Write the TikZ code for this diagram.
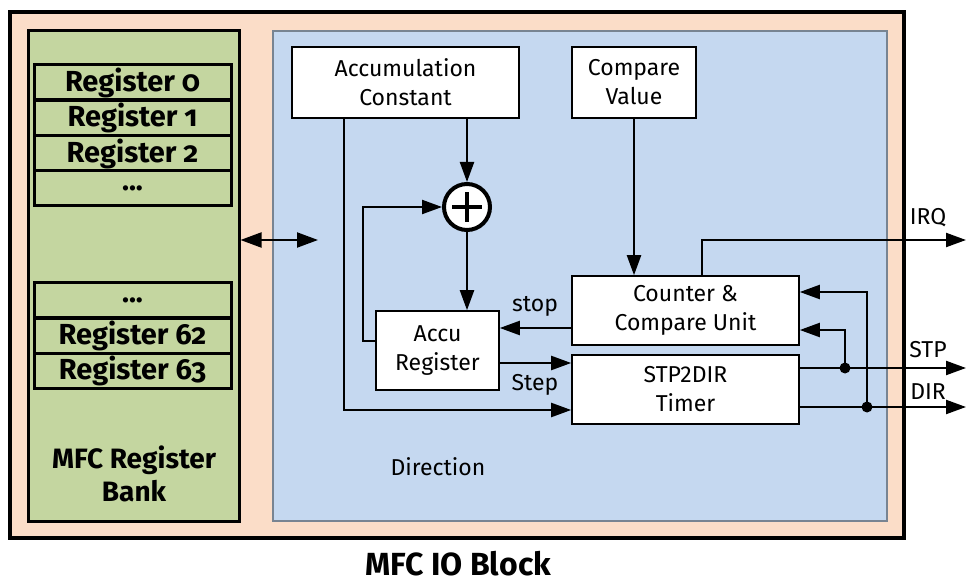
\documentclass[tikz,border=0pt]{standalone}
\usepackage{fontspec}
\setmainfont{Fira Sans}
\newfontfamily\regfont{Fira Sans}[Numbers=OldStyle]
\usetikzlibrary{arrows.meta,positioning}
\definecolor{ioPeach}{RGB}{251,221,200}
\definecolor{bankGreen}{RGB}{196,214,160}
\definecolor{unitBlue}{RGB}{197,216,240}
\definecolor{unitEdge}{RGB}{120,132,146}
\tikzset{
  io frame/.style={draw=black,fill=ioPeach,line width=3.5pt},
  io bank/.style={draw=black,fill=bankGreen,line width=3pt},
  io reg/.style={draw=black,fill=bankGreen,line width=3pt,minimum width=197pt,minimum height=35pt,inner sep=0pt,font=\regfont\bfseries\fontsize{29}{30}\selectfont},
  io unit/.style={draw=unitEdge,fill=unitBlue,line width=1.2pt},
  io box/.style={draw=black,fill=white,line width=1.6pt,align=center,inner sep=0pt,font=\fontsize{23}{29}\selectfont},
  io sum/.style={circle,draw=black,fill=white,line width=4pt,minimum size=46pt,inner sep=0pt},
  io cross/.style={line width=4.5pt},
  io flow/.style={line width=2.2pt,-{Triangle[length=20pt,width=14pt]}},
  io bus/.style={line width=2pt,{Triangle[length=21pt,width=15pt]}-{Triangle[length=21pt,width=15pt]}},
  io label/.style={font=\fontsize{23}{29}\selectfont},
  io title/.style={font=\bfseries\fontsize{28}{33}\selectfont,align=center}
}
\begin{document}
\begin{tikzpicture}[x=1pt,y=-1pt]
\useasboundingbox (0,0) rectangle (968,585);
% containers
\node[io frame,minimum width=894pt,minimum height=526pt] (frame) at (457,275) {};
\node[io bank,minimum width=211pt,minimum height=490pt] (bank) at (133.5,276) {};
\node[io unit,minimum width=614pt,minimum height=490pt] (unit) at (580,276) {};
\node[io title] (banktitle) at (134,474) {MFC Register\\Bank};
\node[io title,font=\bfseries\fontsize{32}{36}\selectfont,anchor=base,inner sep=0pt] (iotitle) at (458,575) {MFC IO Block};
% register rows
\node[io reg] (reg0) at (132.5,82.5) {Register 0};
\node[io reg] (reg1) at (132.5,118) {Register 1};
\node[io reg] (reg2) at (132.5,153.5) {Register 2};
\node[io reg] (regdots) at (132.5,188.5) {...};
\node[io reg] (regdotsb) at (132.5,300) {...};
\node[io reg] (reg62) at (132.5,335.5) {Register 62};
\node[io reg] (reg63) at (132.5,370.5) {Register 63};
% function blocks
\node[io box,minimum width=227pt,minimum height=71pt] (accconst) at (405.5,82.5) {Accumulation\\Constant};
\node[io box,minimum width=124pt,minimum height=71pt] (cmpval) at (634,82.5) {Compare\\Value};
\node[io sum] (plus) at (467,207) {};
\draw[io cross] ([xshift=-15pt]plus.center) -- ([xshift=15pt]plus.center);
\draw[io cross] ([yshift=-15pt]plus.center) -- ([yshift=15pt]plus.center);
\node[io box,minimum width=123pt,minimum height=79pt] (accu) at (437.5,350.5) {Accu\\Register};
\node[io box,minimum width=227pt,minimum height=69pt] (counter) at (685.5,310.5) {Counter \&\\Compare Unit};
\node[io box,minimum width=227pt,minimum height=69pt] (timer) at (685.5,389.5) {STP2DIR\\Timer};
\node[io label] (dirlabel) at (438,467) {Direction};
% ports
\coordinate (busend) at (318,240);
\coordinate (irqend) at (966,240);
\coordinate (stopport) at ([yshift=-17.5pt]counter.west);
\coordinate (stepport) at ([yshift=-12.5pt]accu.east);
\coordinate (stpport) at ([yshift=21.5pt]timer.east);
\coordinate (dirport) at ([yshift=-17.5pt]timer.east);
\coordinate (stpend) at (966,368);
\coordinate (dirend) at (966,407);
\coordinate (stpdot) at (845,368);
\coordinate (dirdot) at (867,407);
% connections
\draw[io bus] (bank.east |- busend) -- (busend);
\draw[io flow] (plus.north |- accconst.south) -- (plus.north);
\draw[io flow] (plus.south) -- (plus.south |- accu.north);
\draw[io flow] ([yshift=9.5pt]accu.west) -- ++(-12pt,0) |- (plus.west);
\draw[io flow] ([xshift=-61.5pt]accconst.south) |- ([yshift=-20.5pt]timer.west);
\draw[io flow] (cmpval.south) -- (cmpval.south |- counter.north);
\draw[io flow] ([xshift=16.5pt]counter.north) |- (irqend);
\draw[io flow] (stopport) -- (stopport -| accu.east);
\draw[io flow] (stepport) -- (stepport -| timer.west);
\draw[io flow] (stpport) -- (stpend);
\draw[io flow] (dirport) -- (dirend);
\draw[io flow] (stpdot) |- ([yshift=-19.5pt]counter.east);
\draw[io flow] (dirdot) |- ([yshift=18.5pt]counter.east);
\fill (stpdot) circle (5.5pt);
\fill (dirdot) circle (5.5pt);
% signal names
\node[io label] (stoplabel) at (535,306) {stop};
\node[io label] (steplabel) at (535,385) {Step};
\node[io label] (irqlabel) at (928,218) {IRQ};
\node[io label] (stplabel) at (928,350) {STP};
\node[io label] (dirname) at (928,392) {DIR};
\end{tikzpicture}
\end{document}
